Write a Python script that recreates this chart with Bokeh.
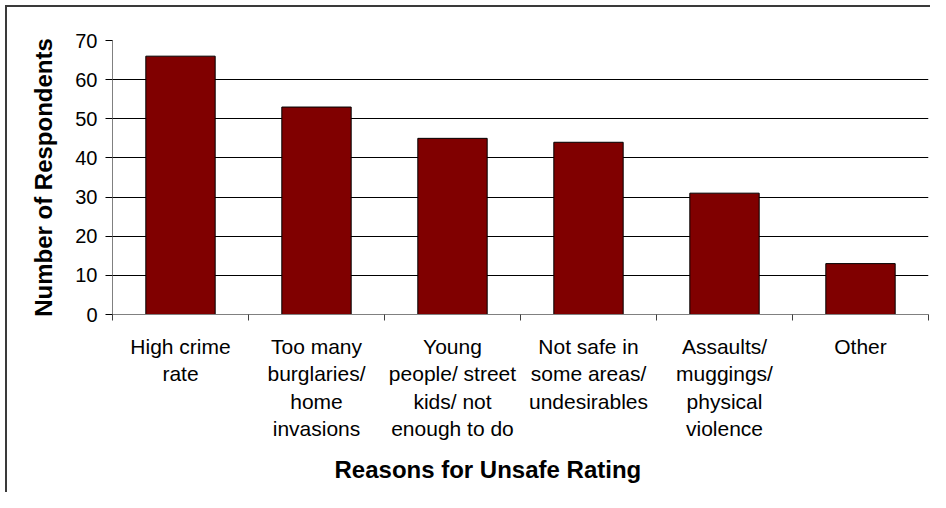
from bokeh.plotting import figure
from bokeh.models import FixedTicker, Range1d, Title, ColumnDataSource
from bokeh.embed import file_html
from bokeh.resources import INLINE

# ---- data ----
categories = [
    "High crime\nrate",
    "Too many\nburglaries/\nhome\ninvasions",
    "Young\npeople/ street\nkids/ not\nenough to do",
    "Not safe in\nsome areas/\nundesirables",
    "Assaults/\nmuggings/\nphysical\nviolence",
    "Other",
]
respondents = [66, 53, 45, 44, 31, 13]
y_ticks = [0, 10, 20, 30, 40, 50, 60, 70]
x_title = "Reasons for Unsafe Rating"
y_title = "Number of Respondents"

n = len(categories)
centers = [i + 0.5 for i in range(n)]
bounds = [float(i) for i in range(n + 1)]

FONT = "Liberation Sans"

p = figure(
    width=930, height=492,
    output_backend="svg", toolbar_location=None,
    x_range=Range1d(0, n), y_range=Range1d(0, 70),
    min_border_left=112, min_border_top=40, min_border_right=2, min_border_bottom=178,
)
# outer chart-area border (left and top edges visible in the reference)
p.styles = {
    "background": "linear-gradient(#3a3a3a,#3a3a3a) 5px 5px / 2px 100% no-repeat, "
                  "linear-gradient(#3a3a3a,#3a3a3a) 5px 5px / 100% 2px no-repeat, white"
}
p.border_fill_alpha = 0
p.outline_line_color = None
p.background_fill_color = "white"

src = ColumnDataSource(dict(x=centers, top=respondents))
p.vbar(x="x", top="top", width=0.51, bottom=0, source=src,
       fill_color="#800000", line_color="black", line_width=1)

# grid
p.xgrid.grid_line_color = None
p.ygrid.grid_line_color = "black"
p.ygrid.grid_line_width = 1

# y axis
ya = p.yaxis[0]
ya.ticker = FixedTicker(ticks=y_ticks, minor_ticks=[])
ya.axis_line_color = "#808080"
ya.major_tick_line_color = "black"
ya.major_tick_out = 7
ya.major_tick_in = 0
ya.minor_tick_line_color = None
ya.major_label_text_font = FONT
ya.major_label_text_font_size = "20px"
ya.major_label_text_color = "black"
ya.major_label_standoff = 8
ya.axis_label = y_title
ya.axis_label_text_font = FONT
ya.axis_label_text_font_size = "24px"
ya.axis_label_text_font_style = "bold"
ya.axis_label_text_color = "black"
ya.axis_label_standoff = 15

# x axis
xa = p.xaxis[0]
xa.ticker = FixedTicker(ticks=centers, minor_ticks=bounds)
xa.major_label_overrides = {c: lab for c, lab in zip(centers, categories)}
xa.axis_line_color = "#808080"
xa.major_tick_line_color = None
xa.major_tick_out = 0
xa.major_tick_in = 0
xa.minor_tick_line_color = "#404040"
xa.minor_tick_out = 6
xa.minor_tick_in = 0
xa.major_label_text_font = FONT
xa.major_label_text_font_size = "21px"
xa.major_label_text_color = "black"
xa.major_label_standoff = 14

t = Title(text=x_title, align="left", offset=222,
          text_font=FONT, text_font_size="24px", text_font_style="bold",
          text_color="black", standoff=20)
p.add_layout(t, "below")

open("out.html", "w").write(file_html(p, INLINE))
